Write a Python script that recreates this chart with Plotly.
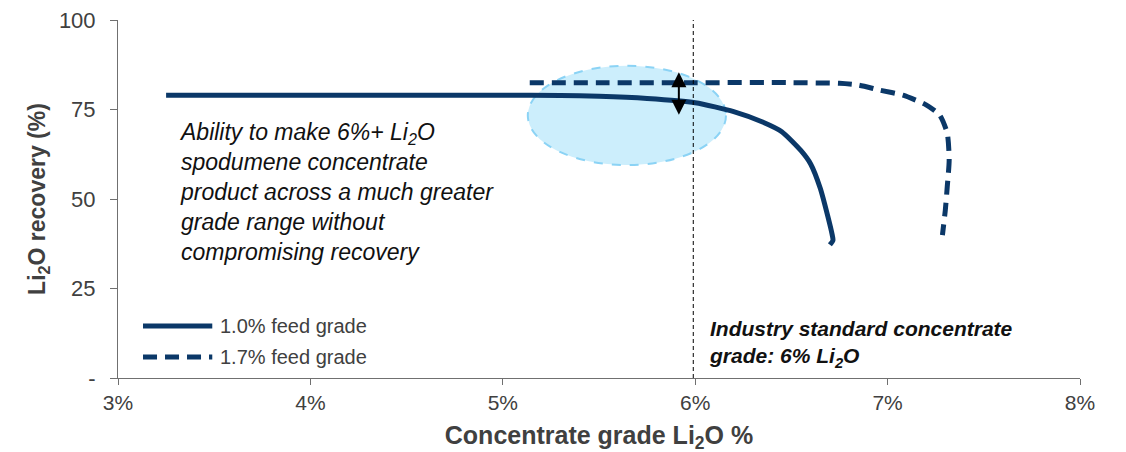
import plotly.graph_objects as go

# ---- data ----
feed10_grade = [3.25, 4.0, 4.5, 5.0, 5.3, 5.5, 5.75, 6.0, 6.2, 6.35, 6.45, 6.55, 6.6, 6.65, 6.69, 6.712, 6.716, 6.70]
feed10_recovery = [79.0, 79.0, 79.0, 79.0, 78.9, 78.7, 78.1, 76.9, 74.4, 71.5, 68.8, 63.5, 59.8, 53.0, 45.0, 40.0, 38.5, 37.2]

feed17_grade = [5.14, 5.5, 6.0, 6.5, 6.75, 6.85, 6.96, 7.08, 7.2, 7.27, 7.31, 7.32, 7.31, 7.30, 7.285]
feed17_recovery = [82.5, 82.5, 82.5, 82.5, 82.3, 81.8, 80.4, 79.0, 76.3, 73.5, 68.4, 60.9, 53.4, 46.9, 39.9]

series_names = ["1.0% feed grade", "1.7% feed grade"]
x_tickvals = [3, 4, 5, 6, 7, 8]
x_ticktext = ["3%", "4%", "5%", "6%", "7%", "8%"]
y_tickvals = [0, 25, 50, 75, 100]
y_ticktext = ["-", "25", "50", "75", "100"]

industry_standard = 5.99
ellipse_x = [5.13, 6.16]
ellipse_y = [59.5, 87.2]
arrow_x = 5.915
arrow_y = [73.5, 85.8]

NAVY = "#0B3868"
FONT = "Liberation Sans, Arial, sans-serif"
GREY = "#404040"

fig = go.Figure()
fig.add_trace(go.Scatter(x=feed10_grade, y=feed10_recovery, mode="lines", name=series_names[0],
                         line=dict(color=NAVY, width=5, shape="spline", smoothing=0.6), showlegend=False))
fig.add_trace(go.Scatter(x=feed17_grade, y=feed17_recovery, mode="lines", name=series_names[1],
                         line=dict(color=NAVY, width=5, dash="14px,8px", shape="spline", smoothing=0.6),
                         showlegend=False))

# highlighted ellipse
fig.add_shape(type="circle", xref="x", yref="y", x0=ellipse_x[0], x1=ellipse_x[1],
              y0=ellipse_y[0], y1=ellipse_y[1], fillcolor="#CCEEFC",
              line=dict(color="#8BD3F5", width=2, dash="dash"), layer="below")
# industry standard line
fig.add_shape(type="line", xref="x", yref="y", x0=industry_standard, x1=industry_standard,
              y0=0, y1=100, line=dict(color="black", width=1, dash="4px,3px"))
# double arrow
fig.add_annotation(x=arrow_x, y=arrow_y[0], ax=arrow_x, ay=arrow_y[1], axref="x", ayref="y",
                   xref="x", yref="y", text="", showarrow=True, arrowside="end+start",
                   arrowhead=2, arrowsize=1.5, arrowwidth=2, arrowcolor="black",
                   startarrowhead=2, startarrowsize=1.5, standoff=0, startstandoff=0)

# manual legend
leg_x0, leg_x1, leg_tx = 0.026, 0.098, 0.104
leg_y = [0.1453, 0.0587]
fig.add_shape(type="line", xref="paper", yref="paper", x0=leg_x0, x1=leg_x1, y0=leg_y[0], y1=leg_y[0],
              line=dict(color=NAVY, width=5))
fig.add_shape(type="line", xref="paper", yref="paper", x0=leg_x0, x1=leg_x1, y0=leg_y[1], y1=leg_y[1],
              line=dict(color=NAVY, width=5, dash="14px,8px"))
for name, yy in zip(series_names, leg_y):
    fig.add_annotation(xref="paper", yref="paper", x=leg_tx, y=yy, text=name, showarrow=False,
                       xanchor="left", yanchor="middle", font=dict(family=FONT, size=20, color=GREY))

# texts
fig.add_annotation(xref="x", yref="y", x=3.307, y=52.0, xanchor="left", yanchor="middle", align="left",
                   showarrow=False,
                   text="<i>Ability to make 6%+ Li<sub>2</sub>O<br>spodumene concentrate<br>"
                        "product across a much greater<br>grade range without<br>compromising recovery</i>",
                   font=dict(family=FONT, size=23, color="#111111"))
fig.add_annotation(xref="x", yref="y", x=6.061, y=9.5, xanchor="left", yanchor="middle", align="left",
                   showarrow=False,
                   text="<b><i>Industry standard concentrate<br>grade: 6% Li<sub>2</sub>O</i></b>",
                   font=dict(family=FONT, size=21, color="#111111"))

fig.update_layout(
    width=1126, height=452,
    margin=dict(l=110, r=54, t=12, b=82, autoexpand=False),
    paper_bgcolor="white", plot_bgcolor="white",
    font=dict(family=FONT, color=GREY),
    xaxis=dict(range=[3, 8], tickvals=x_tickvals, ticktext=x_ticktext, showgrid=False, zeroline=False,
               showline=True, linecolor="#707070", linewidth=1, ticks="outside", ticklen=6,
               tickcolor="#707070", tickfont=dict(size=21, color=GREY), automargin=False,
               title=dict(text="<b>Concentrate grade Li<sub>2</sub>O %</b>", font=dict(size=25, color=GREY),
                          standoff=13)),
    yaxis=dict(range=[0, 100], tickvals=y_tickvals, ticktext=y_ticktext, showgrid=False, zeroline=False,
               showline=True, linecolor="#707070", linewidth=1, ticks="outside", ticklen=7,
               tickcolor="#707070", tickfont=dict(size=22, color=GREY), automargin=False,
               ticklabelstandoff=10, ticklabeloverflow="allow",
               title=dict(text="<b>Li<sub>2</sub>O recovery (%)</b>", font=dict(size=23, color=GREY),
                          standoff=6)),
)

fig.write_html("out.html")
